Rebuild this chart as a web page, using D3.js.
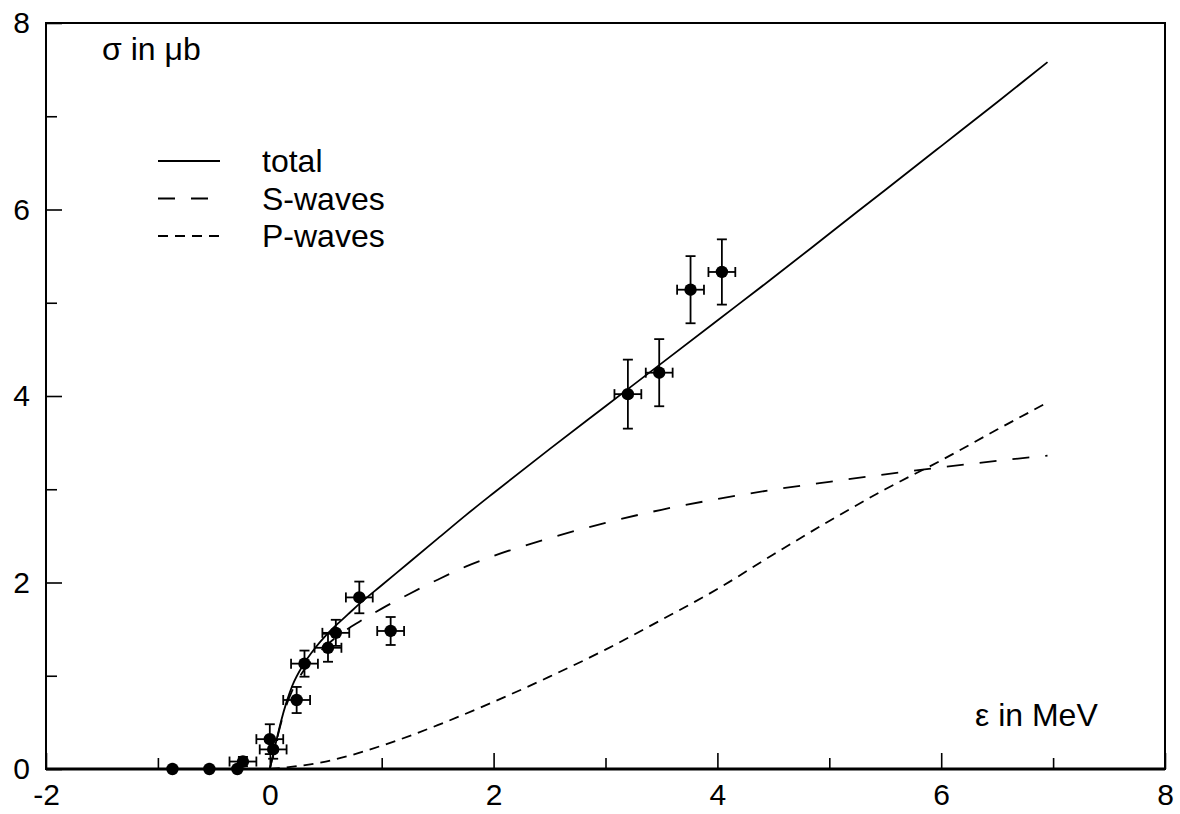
<!DOCTYPE html>
<html>
<head>
<meta charset="utf-8">
<script src="https://cdn.jsdelivr.net/npm/d3@7"></script>
<style>
  body { margin: 0; background: #fff; }
  svg { display: block; font-family: "Liberation Sans", Arial, sans-serif; }
</style>
</head>
<body>
<script>
// data points (epsilon in MeV, sigma in microbarn)
const pointE    = [-0.87, -0.54, -0.29, -0.24, 0.00, 0.03, 0.24, 0.31, 0.52, 0.59, 0.80, 1.08, 3.20, 3.48, 3.76, 4.04];
const pointSig  = [0.00, 0.00, 0.00, 0.08, 0.32, 0.21, 0.74, 1.13, 1.30, 1.46, 1.84, 1.48, 4.02, 4.25, 5.14, 5.33];
const pointErrY = [0, 0, 0, 0.05, 0.16, 0.10, 0.14, 0.14, 0.15, 0.14, 0.17, 0.15, 0.37, 0.36, 0.36, 0.35];
const pointErrX = [0, 0, 0, 0.12, 0.12, 0.12, 0.12, 0.12, 0.12, 0.12, 0.12, 0.12, 0.12, 0.12, 0.12, 0.12];

// theory curves
const totalE   = [0, 0.025, 0.05, 0.1, 0.15, 0.2, 0.3, 0.4, 0.5, 0.6, 0.7, 0.8, 1.0, 1.25, 1.5, 1.75, 2.0, 2.5, 3.0, 3.5, 4.0, 4.5, 5.0, 5.5, 6.0, 6.5, 6.95];
const totalSig = [0, 0.13, 0.26, 0.51, 0.72, 0.89, 1.12, 1.29, 1.43, 1.55, 1.66, 1.77, 1.97, 2.22, 2.47, 2.72, 2.96, 3.43, 3.89, 4.35, 4.81, 5.27, 5.74, 6.21, 6.68, 7.15, 7.58];

const sE   = [0, 0.05, 0.1, 0.15, 0.2, 0.3, 0.4, 0.5, 0.6, 0.8, 1.0, 1.25, 1.5, 1.75, 2.0, 2.5, 3.0, 3.5, 4.0, 4.5, 5.0, 5.5, 6.0, 6.5, 6.95];
const sSig = [0, 0.25, 0.49, 0.69, 0.84, 1.05, 1.2, 1.32, 1.42, 1.58, 1.72, 1.88, 2.03, 2.17, 2.285, 2.475, 2.64, 2.78, 2.895, 2.995, 3.08, 3.16, 3.235, 3.305, 3.36];

const pE   = [0, 0.5, 1.0, 1.5, 2.0, 2.5, 3.0, 3.5, 4.0, 4.5, 5.0, 5.5, 6.0, 6.5, 6.95];
const pSig = [0, 0.08, 0.25, 0.47, 0.72, 0.99, 1.28, 1.6, 1.93, 2.3, 2.66, 3.0, 3.31, 3.64, 3.93];

const legendNames = ["total", "S-waves", "P-waves"];
const dashes = [null, "17,16", "10,7"];

const xMajor = [-2, 0, 2, 4, 6, 8];
const xMinor = [-1, 1, 3, 5, 7];
const yMajor = [0, 2, 4, 6, 8];
const yMinor = [1, 3, 5, 7];

const W = 1180, H = 814;
const margin = {top: 23, right: 15, bottom: 45, left: 46};
const width = W - margin.left - margin.right;
const height = H - margin.top - margin.bottom;

const svg = d3.select("body").append("svg")
  .attr("width", W)
  .attr("height", H);

const g = svg.append("g")
  .attr("transform", `translate(${margin.left},${margin.top})`);

const x = d3.scaleLinear().domain([-2, 8]).range([0, width]);
const y = d3.scaleLinear().domain([0, 8]).range([height, 0]);

// axes, ticks pointing inside, plain hyphen for minus
const fmt = d => String(d);
const xAxis = d3.axisBottom(x).tickValues(xMajor).tickSize(-16).tickPadding(15).tickFormat(fmt);
const xAxisMinor = d3.axisBottom(x).tickValues(xMinor).tickSize(-11).tickFormat("");
const yAxis = d3.axisLeft(y).tickValues(yMajor).tickSize(-16).tickPadding(16).tickFormat(fmt);
const yAxisMinor = d3.axisLeft(y).tickValues(yMinor).tickSize(-11).tickFormat("");

function styleAxis(sel) {
  sel.select(".domain").remove();
  sel.selectAll("line").attr("stroke", "#000").attr("stroke-width", 1.6);
  sel.selectAll("text").attr("fill", "#000").style("font-size", "30px");
}

g.append("g").attr("transform", `translate(0,${height})`).call(xAxis).call(styleAxis);
g.append("g").attr("transform", `translate(0,${height})`).call(xAxisMinor).call(styleAxis);
g.append("g").call(yAxis).call(styleAxis);
g.append("g").call(yAxisMinor).call(styleAxis);

// frame
g.append("rect")
  .attr("width", width).attr("height", height)
  .attr("fill", "none").attr("stroke", "#000").attr("stroke-width", 2);
g.append("line")
  .attr("x1", 0).attr("x2", width).attr("y1", height).attr("y2", height)
  .attr("stroke", "#000").attr("stroke-width", 3);

// curves
const line = d3.line()
  .x(d => x(d[0]))
  .y(d => y(d[1]))
  .curve(d3.curveMonotoneX);

const curves = [
  d3.zip(totalE, totalSig),
  d3.zip(sE, sSig),
  d3.zip(pE, pSig)
];

curves.forEach((c, i) => {
  g.append("path")
    .datum(c)
    .attr("d", line)
    .attr("fill", "none")
    .attr("stroke", "#000")
    .attr("stroke-width", 1.8)
    .attr("stroke-dasharray", dashes[i]);
});

// data points with error bars
const pts = pointE.map((e, i) => ({e: e, s: pointSig[i], dx: pointErrX[i], dy: pointErrY[i]}));
const cap = 5;
const eb = g.append("g").attr("stroke", "#000").attr("stroke-width", 1.8);

pts.filter(d => d.dx > 0).forEach(d => {
  const cx = x(d.e), cy = y(d.s);
  const x0 = x(d.e - d.dx), x1 = x(d.e + d.dx);
  const y0 = y(d.s - d.dy), y1 = y(d.s + d.dy);
  eb.append("line").attr("x1", x0).attr("x2", x1).attr("y1", cy).attr("y2", cy);
  eb.append("line").attr("x1", x0).attr("x2", x0).attr("y1", cy - cap).attr("y2", cy + cap);
  eb.append("line").attr("x1", x1).attr("x2", x1).attr("y1", cy - cap).attr("y2", cy + cap);
  eb.append("line").attr("x1", cx).attr("x2", cx).attr("y1", y0).attr("y2", y1);
  eb.append("line").attr("x1", cx - cap).attr("x2", cx + cap).attr("y1", y0).attr("y2", y0);
  eb.append("line").attr("x1", cx - cap).attr("x2", cx + cap).attr("y1", y1).attr("y2", y1);
});

g.selectAll("circle.pt")
  .data(pts)
  .join("circle")
  .attr("class", "pt")
  .attr("cx", d => x(d.e))
  .attr("cy", d => y(d.s))
  .attr("r", 6.2)
  .attr("fill", "#000");

// legend
const legend = svg.append("g");
legendNames.forEach((name, i) => {
  const ly = 161 + i * 37.5;
  legend.append("line")
    .attr("x1", 158).attr("x2", 220).attr("y1", ly).attr("y2", ly)
    .attr("stroke", "#000").attr("stroke-width", 1.8)
    .attr("stroke-dasharray", dashes[i]);
  legend.append("text")
    .attr("x", 262).attr("y", ly + 11)
    .style("font-size", "32px")
    .text(name);
});

// axis titles
svg.append("text").attr("x", 102).attr("y", 60).style("font-size", "32px").text("σ in μb");
svg.append("text").attr("x", 975).attr("y", 726).style("font-size", "32px").text("ε in MeV");
</script>
</body>
</html>
